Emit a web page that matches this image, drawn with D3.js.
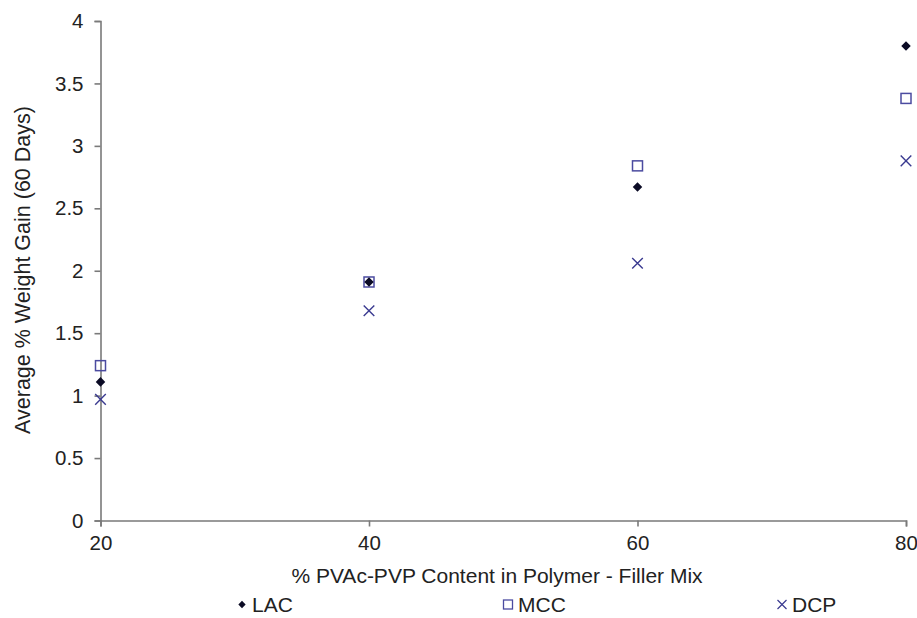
<!DOCTYPE html>
<html><head><meta charset="utf-8">
<script src="https://cdn.jsdelivr.net/npm/d3@7"></script>
<style>body{margin:0;background:#fff}svg{display:block}text{font-family:"Liberation Sans",Arial,sans-serif;fill:#222}</style>
</head><body>
<svg id="c" width="917" height="618"></svg>
<script>
const xValues = [20, 40, 60, 80];
const lac = [1.11, 1.91, 2.67, 3.80];
const mcc = [1.24, 1.91, 2.84, 3.38];
const dcp = [0.97, 1.68, 2.06, 2.88];
const seriesNames = ["LAC", "MCC", "DCP"];
const xTicks = [20, 40, 60, 80];
const yTicks = [0, 0.5, 1, 1.5, 2, 2.5, 3, 3.5, 4];
const xTitle = "% PVAc-PVP Content in Polymer - Filler Mix";
const yTitle = "Average % Weight Gain (60 Days)";

const svg = d3.select("#c");
const x = d3.scaleLinear().domain([20, 80]).range([100.5, 906]);
const y = d3.scaleLinear().domain([0, 4]).range([520.5, 21]);
const axisColor = "#7a7a7a";

const gx = svg.append("g").attr("transform", `translate(0,${y(0)})`)
  .call(d3.axisBottom(x).tickValues(xTicks).tickSize(6).tickPadding(4).tickFormat(d3.format("d")));
const gy = svg.append("g").attr("transform", `translate(${x(20)},0)`)
  .call(d3.axisLeft(y).tickValues(yTicks).tickSize(6).tickPadding(11).tickFormat(d => d));
[gx, gy].forEach(g => {
  g.select(".domain").attr("stroke", axisColor).attr("stroke-width", 1.6);
  g.selectAll(".tick line").attr("stroke", axisColor).attr("stroke-width", 1.6);
  g.selectAll(".tick text").attr("font-size", 20.5).attr("fill", "#222")
   .style("font-family", '"Liberation Sans",Arial,sans-serif');
});
gx.selectAll(".tick text").attr("dy", "0.93em");

svg.append("text").attr("x", 497).attr("y", 583).attr("text-anchor", "middle")
  .attr("font-size", 21).text(xTitle);
svg.append("text").attr("transform", "translate(30,270) rotate(-90)").attr("text-anchor", "middle")
  .attr("font-size", 21.5).text(yTitle);

const lacColor = "#0b0b25", mccColor = "#4b4ba0", dcpColor = "#3a3a90";
const diamond = d3.symbol().type(d3.symbolDiamond2).size(58);
function drawLac(g, cx, cy) {
  g.append("path").attr("d", diamond()).attr("transform", `translate(${cx},${cy})`).attr("fill", lacColor);
}
function drawMcc(g, cx, cy) {
  g.append("rect").attr("x", cx - 5).attr("y", cy - 5).attr("width", 10).attr("height", 10)
    .attr("fill", "none").attr("stroke", mccColor).attr("stroke-width", 1.5);
}
function drawDcp(g, cx, cy) {
  const s = 5.3;
  g.append("path").attr("d", `M${cx-s},${cy-s}L${cx+s},${cy+s}M${cx-s},${cy+s}L${cx+s},${cy-s}`)
    .attr("stroke", dcpColor).attr("stroke-width", 1.4).attr("fill", "none");
}
const pts = svg.append("g");
xValues.forEach((xv, i) => drawMcc(pts, x(xv), y(mcc[i])));
xValues.forEach((xv, i) => drawLac(pts, x(xv), y(lac[i])));
xValues.forEach((xv, i) => drawDcp(pts, x(xv), y(dcp[i])));

const legY = 604.5;
const leg = svg.append("g");
const legX = [242, 508, 782];
seriesNames.forEach((n, i) => {
  const g = leg.append("g");
  if (i === 0) {
    g.append("path").attr("d", d3.symbol().type(d3.symbolDiamond2).size(34)()).attr("transform", `translate(${legX[i]},${legY})`).attr("fill", lacColor);
  } else if (i === 1) {
    g.append("rect").attr("x", legX[i] - 4.5).attr("y", legY - 4.5).attr("width", 9).attr("height", 9)
      .attr("fill", "none").attr("stroke", mccColor).attr("stroke-width", 1.3);
  } else {
    const s = 4.5, cx = legX[i], cy = legY;
    g.append("path").attr("d", `M${cx-s},${cy-s}L${cx+s},${cy+s}M${cx-s},${cy+s}L${cx+s},${cy-s}`)
      .attr("stroke", dcpColor).attr("stroke-width", 1.2);
  }
  g.append("text").attr("x", legX[i] + 10).attr("y", legY).attr("dy", "0.36em").attr("font-size", 21).text(n);
});
</script>
</body></html>
